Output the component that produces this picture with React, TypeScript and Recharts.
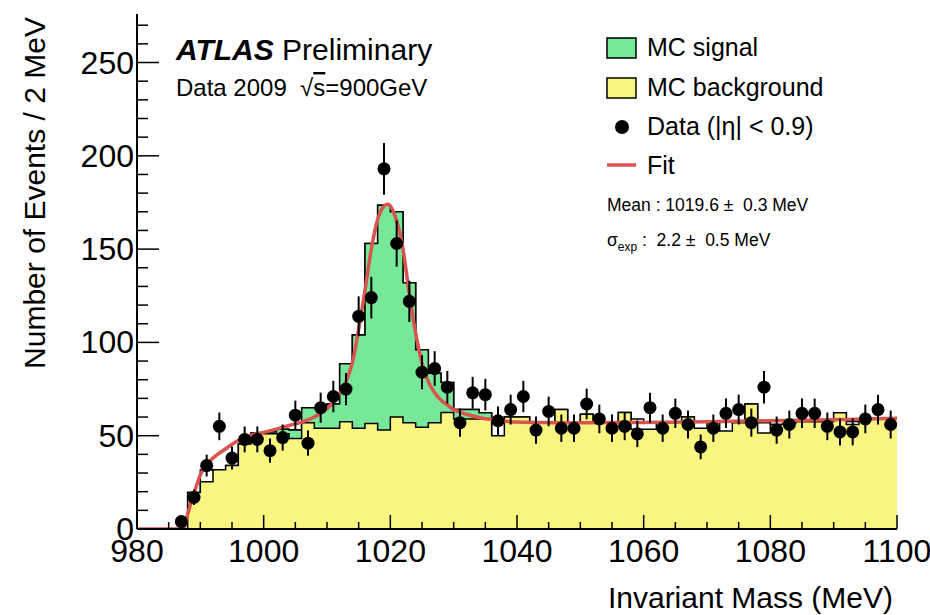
import React from "react";
import { ComposedChart, Area, Line, Scatter, ErrorBar, XAxis, YAxis } from "recharts";

const FONT = "'Liberation Sans', Arial, Helvetica, sans-serif";

const COLORS = {
	signal: "#77e898",
	background: "#f8f680",
	fit: "#d9534f",
	data: "#000000",
};

// Histogram binning (MeV)
const BIN_START = 980;
const BIN_WIDTH = 2;
// green fill only drawn inside the signal window
const SIGNAL_WINDOW = [1000, 1036];

const massTicks = [980, 985, 990, 995, 1000, 1005, 1010, 1015, 1020, 1025, 1030, 1035, 1040, 1045, 1050, 1055, 1060, 1065, 1070, 1075, 1080, 1085, 1090, 1095, 1100];
const countTicks = [0, 10, 20, 30, 40, 50, 60, 70, 80, 90, 100, 110, 120, 130, 140, 150, 160, 170, 180, 190, 200, 210, 220, 230, 240, 250, 260, 270];

// events per 2 MeV bin, 980-982 ... 1098-1100
const dataCounts = [
	0, 0, 0, 4, 17, 34, 55, 38, 48, 48,
	42, 49, 61, 46, 65, 71, 75, 114, 124, 193,
	153, 122, 84, 86, 76, 57, 73, 72, 58, 64,
	71, 53, 63, 54, 54, 67, 59, 54, 55, 51,
	65, 54, 62, 56, 44, 54, 62, 64, 57, 76,
	53, 56, 62, 62, 55, 52, 52, 59, 64, 56,
];

const mcBackground = [
	0, 0, 0, 0, 19.5, 25.3, 31.8, 34, 45.5, 51.5,
	51, 51, 48.5, 57, 54, 54, 57.5, 54, 56.5, 53,
	60, 57, 54.5, 57, 62.5, 59, 59, 59, 50, 60,
	60, 57, 57, 64, 57, 61.5, 57, 57, 62.5, 53.5,
	53.5, 57, 57.5, 60, 54, 57, 52.5, 57, 67, 51.5,
	56, 56.5, 57.5, 57.5, 57.5, 62.3, 56, 59, 59.5, 59,
];

const mcSignal = [
	0, 0, 0, 0, 0, 6.3, 0, 0, 0, 0,
	1, 2.5, 4.5, 8, 11, 13, 31, 50, 96.5, 120.5,
	110, 75, 41.5, 26.5, 16, 5, 5, 3.3, 6.6, 0,
	0, 0, 0, 0, 0, 0, 0, 0, 0, 5.5,
	3.5, 0, 0, 0, 3.5, 0, 5, 0, 0, 5.5,
	0, 0, 0, 0, 0, 0, 1.6, 0, 0, 0,
];

// fitted line shape
const fitMass = [980, 987, 987.5, 988, 989, 990, 991, 992, 994, 996, 998, 1000, 1002, 1004, 1006, 1008, 1009, 1010, 1011, 1012, 1013, 1014, 1015, 1016, 1017, 1018, 1019, 1019.6, 1020, 1021, 1022, 1023, 1024, 1025, 1026, 1027, 1028, 1029, 1030, 1032, 1034, 1036, 1040, 1045, 1050, 1060, 1070, 1080, 1090, 1100];
const fitValue = [0, 0, 1.5, 8, 19, 29, 34.5, 38, 43, 47.5, 50.3, 51.8, 53.5, 55.5, 57.3, 60, 62, 64.5, 68, 72.5, 79, 89, 107, 128, 150, 166, 173, 174, 173, 165, 150, 126, 105, 89, 79, 73, 69, 66.5, 64, 61.5, 59.8, 58.7, 57.3, 57, 56.9, 57.1, 57.5, 58, 58.6, 59.3];

const histRows = Array.from({ length: mcBackground.length + 1 }, (_, i) => {
	const b = Math.min(i, mcBackground.length - 1);
	const x = BIN_START + i * BIN_WIDTH;
	const binLow = BIN_START + b * BIN_WIDTH;
	const inWindow = binLow >= SIGNAL_WINDOW[0] && binLow < SIGNAL_WINDOW[1];
	return {
		x,
		outline: mcBackground[b] + mcSignal[b],
		signal: inWindow ? mcBackground[b] + mcSignal[b] : 0,
		background: mcBackground[b],
	};
});

const pointRows = dataCounts
	.map((count, i) => ({ x: BIN_START + i * BIN_WIDTH + BIN_WIDTH / 2, count, err: Math.sqrt(count) }))
	.filter((p) => p.count > 0);

const fitRows = fitMass.map((x, i) => ({ x, fit: fitValue[i] }));

const MARGIN = { top: 14, right: 33, bottom: 0, left: 0 };
const X_DOMAIN = [980, 1100];
const Y_DOMAIN = [0, 276];

const MassTick = (props: any) => {
	const { x, y, payload, top } = props;
	const value = payload.value;
	const major = value % 20 === 0;
	const len = major ? 14 : 7;
	if (top) return <line x1={x} x2={x} y1={y} y2={y + len} stroke="#000" strokeWidth={1.5} />;
	return (
		<g>
			<line x1={x} x2={x} y1={y} y2={y - len} stroke="#000" strokeWidth={1.5} />
			{major && (
				<text x={x} y={y + 33} textAnchor="middle" fontSize={32} fontFamily={FONT} fill="#000">
					{value}
				</text>
			)}
		</g>
	);
};

const CountTick = (props: any) => {
	const { x, y, payload, right } = props;
	const value = payload.value;
	const major = value % 50 === 0;
	const len = major ? 22 : 11;
	if (right) return <line x1={x} x2={x - len} y1={y} y2={y} stroke="#000" strokeWidth={1.5} />;
	return (
		<g>
			<line x1={x} x2={x + len} y1={y} y2={y} stroke="#000" strokeWidth={1.5} />
			{major && (
				<text x={x - 3} y={y + 11} textAnchor="end" fontSize={32} fontFamily={FONT} fill="#000">
					{value}
				</text>
			)}
		</g>
	);
};

const DataDot = (props: any) => <circle cx={props.cx} cy={props.cy} r={6.5} fill={COLORS.data} />;

// frame with inward ticks on all four sides; `show` false keeps only the layout
function FrameAxes({ show }: { show: boolean }) {
	const axisLine = show ? { stroke: "#000", strokeWidth: 2 } : false;
	const common = { type: "number" as const, allowDataOverflow: true, interval: 0 as const, tickSize: 0, tickMargin: 0, tickLine: false, axisLine };
	return [
		<XAxis key="xb" dataKey="x" domain={X_DOMAIN} ticks={massTicks} height={86} tick={show ? <MassTick /> : false} {...common} />,
		<XAxis key="xt" xAxisId="top" orientation="top" dataKey="x" domain={X_DOMAIN} ticks={massTicks} height={0} tick={show ? <MassTick top /> : false} {...common} />,
		<YAxis key="yl" domain={Y_DOMAIN} ticks={countTicks} width={137} tick={show ? <CountTick /> : false} {...common} />,
		<YAxis key="yr" yAxisId="right" orientation="right" domain={Y_DOMAIN} ticks={countTicks} width={0} tick={show ? <CountTick right /> : false} {...common} />,
	];
}

export default function App() {
	return (
		<div style={{ position: "absolute", left: 0, top: 0, width: 930, height: 615, background: "#fff" }}>
			<ComposedChart width={930} height={615} data={histRows} margin={MARGIN}>
				{FrameAxes({ show: false })}
				<Area type="stepAfter" dataKey="outline" fill="#ffffff" fillOpacity={1} stroke="#000" strokeWidth={1.5} dot={false} activeDot={false} isAnimationActive={false} />
				<Area type="stepAfter" dataKey="signal" fill={COLORS.signal} fillOpacity={1} stroke="#000" strokeWidth={1.5} dot={false} activeDot={false} isAnimationActive={false} />
				<Area type="stepAfter" dataKey="background" fill={COLORS.background} fillOpacity={1} stroke="#000" strokeWidth={1.5} dot={false} activeDot={false} isAnimationActive={false} />
				<Line data={fitRows} type="monotone" dataKey="fit" stroke={COLORS.fit} strokeWidth={3.5} dot={false} activeDot={false} isAnimationActive={false} />
				<Scatter data={pointRows} dataKey="count" shape={<DataDot />} isAnimationActive={false}>
					<ErrorBar dataKey="err" direction="y" width={0} stroke="#000" strokeWidth={2} />
				</Scatter>
			</ComposedChart>

			{/* axes drawn again on top so the ticks stay visible over the filled histograms */}
			<div style={{ position: "absolute", left: 0, top: 0, pointerEvents: "none" }}>
				<ComposedChart width={930} height={615} data={histRows} margin={MARGIN}>
					{FrameAxes({ show: true })}
				</ComposedChart>
			</div>

			<svg width={930} height={615} style={{ position: "absolute", left: 0, top: 0, pointerEvents: "none" }} fontFamily={FONT}>
				<text x={176} y={60} fontSize={30} fill="#000">
					<tspan fontWeight="bold" fontStyle="italic">ATLAS</tspan>
					<tspan> Preliminary</tspan>
				</text>
				<text x={176} y={96} fontSize={24} fill="#000">
					{"Data 2009\u00a0\u00a0√"}
					<tspan style={{ textDecoration: "overline" }}>s</tspan>
					{"=900GeV"}
				</text>

				<rect x={607} y={38} width={29} height={20} fill={COLORS.signal} stroke="#000" strokeWidth={1.5} />
				<text x={647} y={56} fontSize={25} fill="#000">MC signal</text>
				<rect x={607} y={78} width={29} height={20} fill={COLORS.background} stroke="#000" strokeWidth={1.5} />
				<text x={647} y={96} fontSize={25} fill="#000">MC background</text>
				<circle cx={622} cy={127} r={7} fill={COLORS.data} />
				<text x={647} y={135} fontSize={25} fill="#000">Data (|η| &lt; 0.9)</text>
				<line x1={607} x2={636} y1={165} y2={165} stroke={COLORS.fit} strokeWidth={3.5} />
				<text x={647} y={174} fontSize={25} fill="#000">Fit</text>
				<text x={607} y={211} fontSize={17.5} fill="#000">{"Mean : 1019.6 ±\u00a0\u00a00.3 MeV"}</text>
				<text x={607} y={246} fontSize={17.5} fill="#000">
					σ<tspan fontSize={12} dy={5}>exp</tspan>
					<tspan dy={-5}>{"\u00a0:\u00a0\u00a02.2 ±\u00a0\u00a00.5 MeV"}</tspan>
				</text>

				<text x={45} y={193} fontSize={30} fill="#000" textAnchor="middle" transform="rotate(-90 45 193)">
					Number of Events / 2 MeV
				</text>
				<text x={893} y={608} fontSize={30} fill="#000" textAnchor="end">
					Invariant Mass (MeV)
				</text>
			</svg>
		</div>
	);
}
